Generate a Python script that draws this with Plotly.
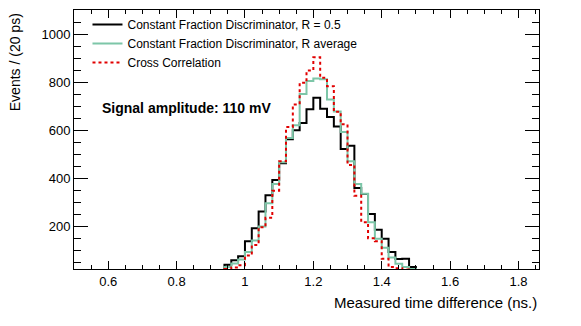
import plotly.graph_objects as go

# bin lower edges (ns), 20 ps bins
bin_lo = [0.92, 0.94, 0.96, 0.98, 1.00, 1.02, 1.04, 1.06, 1.08, 1.10, 1.12, 1.14,
          1.16, 1.18, 1.20, 1.22, 1.24, 1.26, 1.28, 1.30, 1.32, 1.34, 1.36, 1.38,
          1.40, 1.42, 1.44, 1.46, 1.48, 1.50]
last_edge = 1.52

cfd_05 = [0, 40, 58, 75, 138, 192, 261, 329, 392, 462, 562, 600,
          630, 687, 735, 689, 655, 615, 521, 535, 359, 334, 251, 185,
          148, 93, 64, 65, 30, 0]
cfd_avg = [0, 30, 45, 62, 93, 141, 199, 296, 376, 466, 567, 620,
           750, 805, 815, 812, 727, 678, 592, 470, 376, 335, 217, 148,
           110, 70, 44, 30, 22, 0]
xcorr = [0, 22, 28, 38, 78, 122, 196, 235, 348, 470, 613, 707,
         797, 848, 903, 818, 783, 676, 624, 455, 327, 217, 150, 138,
         65, 30, 25, 20, 0, 0]

names = ["Constant Fraction Discriminator, R = 0.5",
         "Constant Fraction Discriminator, R average",
         "Cross Correlation"]

_FONT = "Liberation Sans, Arial, sans-serif"


def step(vals):
    return bin_lo + [last_edge], vals + [vals[-1]]


fig = go.Figure()
for vals, name, color, dash in [(cfd_05, names[0], "black", "solid"),
                                (cfd_avg, names[1], "rgb(125,198,168)", "solid"),
                                (xcorr, names[2], "rgb(225,0,0)", "3px,3px")]:
    x, y = step(vals)
    fig.add_trace(go.Scatter(x=x, y=y, mode="lines", name=name, line_shape="hv",
                             line=dict(color=color, width=2, dash=dash)))

axis_common = dict(showline=True, linecolor="black", linewidth=1, mirror="ticks",
                   ticks="inside", tickcolor="black", tickwidth=1, showgrid=False,
                   zeroline=False, tickfont=dict(family=_FONT, size=13, color="black"))

fig.update_layout(
    width=581, height=326,
    margin=dict(l=74, r=42, t=10, b=57),
    plot_bgcolor="white", paper_bgcolor="white",
    font=dict(family=_FONT, size=12, color="black"),
    xaxis=dict(range=[0.5, 1.86], tick0=0.2, dtick=0.2, ticklen=8,
               minor=dict(dtick=0.05, ticklen=4, ticks="inside", tickcolor="black"),
               **axis_common),
    yaxis=dict(range=[22, 1100], tick0=0, dtick=200, ticklen=14,
               minor=dict(dtick=50, ticklen=7, ticks="inside", tickcolor="black"),
               **axis_common),
    legend=dict(x=0.029, y=1.0, xanchor="left", yanchor="top", bgcolor="rgba(0,0,0,0)",
                font=dict(family=_FONT, size=12), itemwidth=30, tracegroupgap=0),
    annotations=[
        dict(text="<b>Signal amplitude: 110 mV</b>", xref="paper", yref="paper",
             x=0.055, y=0.622, xanchor="left", yanchor="middle", showarrow=False,
             font=dict(family=_FONT, size=14)),
        dict(text="Measured time difference (ns.)", xref="paper", yref="paper",
             x=1.0, y=-0.13, xanchor="right", yanchor="middle", showarrow=False,
             font=dict(family=_FONT, size=15)),
        dict(text="Events / (20 ps)", xref="paper", yref="paper", textangle=-90,
             x=-0.127, y=0.995, xanchor="center", yanchor="top", showarrow=False,
             font=dict(family=_FONT, size=14)),
    ],
)

fig.write_html("out.html", config={"displayModeBar": False},
               post_script="document.body.style.margin='0';")
